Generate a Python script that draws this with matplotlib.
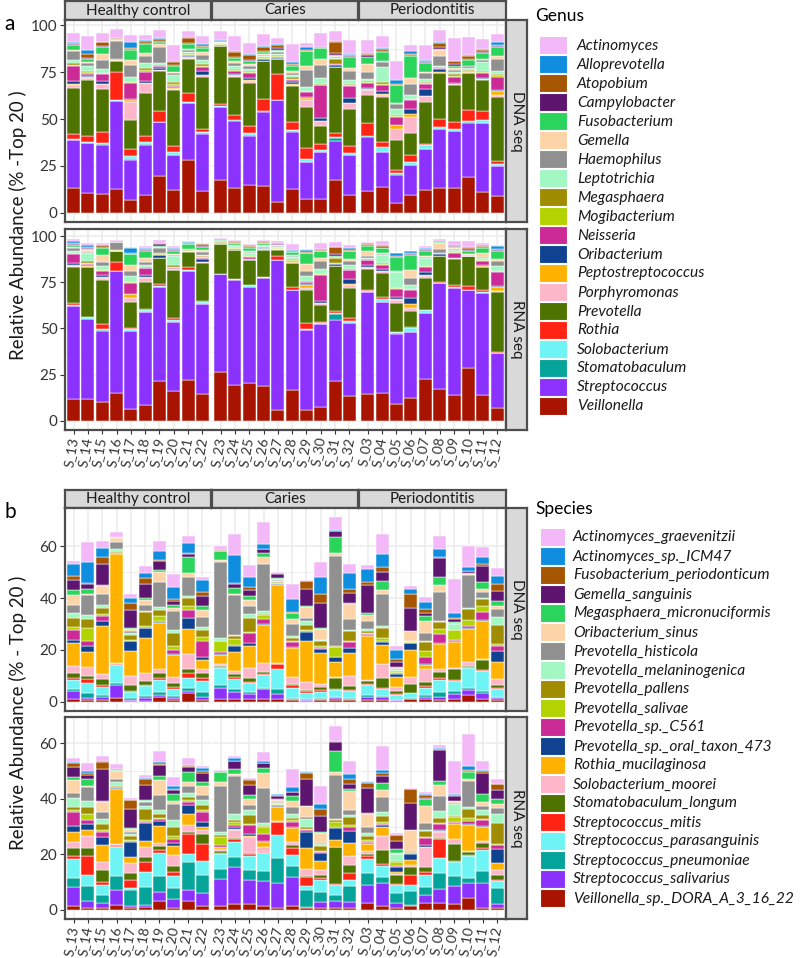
import matplotlib
matplotlib.use("Agg")
import matplotlib.pyplot as plt
from matplotlib.patches import Rectangle
import numpy as np

plt.rcParams["font.family"] = ["Lato", "DejaVu Sans"]

# sample order on the x axis, 10 per group
samples = ["S_13", "S_14", "S_15", "S_16", "S_17", "S_18", "S_19", "S_20", "S_21", "S_22",
           "S_23", "S_24", "S_25", "S_26", "S_27", "S_28", "S_29", "S_30", "S_31", "S_32",
           "S_03", "S_04", "S_05", "S_06", "S_07", "S_08", "S_09", "S_10", "S_11", "S_12"]
groups = ["Healthy control", "Caries", "Periodontitis"]
rows = ["DNA seq", "RNA seq"]

genera = ["Actinomyces", "Alloprevotella", "Atopobium", "Campylobacter", "Fusobacterium",
          "Gemella", "Haemophilus", "Leptotrichia", "Megasphaera", "Mogibacterium",
          "Neisseria", "Oribacterium", "Peptostreptococcus", "Porphyromonas", "Prevotella",
          "Rothia", "Solobacterium", "Stomatobaculum", "Streptococcus", "Veillonella"]

species = ["Actinomyces_graevenitzii", "Actinomyces_sp._ICM47", "Fusobacterium_periodonticum",
           "Gemella_sanguinis", "Megasphaera_micronuciformis", "Oribacterium_sinus",
           "Prevotella_histicola", "Prevotella_melaninogenica", "Prevotella_pallens",
           "Prevotella_salivae", "Prevotella_sp._C561", "Prevotella_sp._oral_taxon_473",
           "Rothia_mucilaginosa", "Solobacterium_moorei", "Stomatobaculum_longum",
           "Streptococcus_mitis", "Streptococcus_parasanguinis", "Streptococcus_pneumoniae",
           "Streptococcus_salivarius", "Veillonella_sp._DORA_A_3_16_22"]

palette = ["#F2B8F7", "#0F8EE0", "#A65500", "#5E1570", "#2BD45B", "#FDD4A8", "#909090",
           "#A2F7C3", "#A08C00", "#B3D300", "#CC2A96", "#0F4391", "#FFB300", "#FDB7C9",
           "#4F7300", "#FF2414", "#6EF4F4", "#05A49A", "#8B32FF", "#A81400"]

# relative abundance, one row per sample (same order as `samples`),
# columns in legend order (first = top of the stack)
genus_dna = [
    [4.5, 0.5, 0.7, 0.6, 2.3, 0.9, 4.4, 1.8, 0.9, 0.9, 8.0, 1.5, 0.3, 1.8, 24.5, 2.5, 0.7, 0.3, 25.3, 13.3],
    [7.4, 1.8, 2.3, 0.5, 1.5, 0.8, 1.2, 3.0, 0.7, 1.0, 0.8, 0.5, 0.8, 0.8, 30.0, 3.0, 0.6, 0.3, 26.5, 10.6],
    [4.4, 0.4, 1.8, 0.5, 4.2, 2.7, 5.3, 1.8, 0.3, 0.3, 4.0, 1.2, 0.3, 2.3, 23.0, 5.8, 0.9, 0.3, 26.2, 10.1],
    [4.8, 0.1, 0.3, 0.3, 0.5, 0.3, 9.4, 0.3, 0.2, 0.2, 0.2, 0.1, 0.1, 0.1, 6.2, 14.9, 0.1, 0.1, 47.1, 12.7],
    [3.5, 3.2, 0.5, 0.5, 5.5, 2.7, 6.2, 2.7, 0.3, 0.3, 8.5, 0.5, 1.4, 9.2, 15.9, 3.5, 1.8, 0.2, 21.2, 7.1],
    [3.0, 0.3, 1.2, 0.5, 4.8, 1.8, 3.5, 2.5, 1.2, 1.0, 4.8, 1.0, 0.3, 5.3, 23.0, 3.2, 1.2, 0.3, 26.5, 9.7],
    [4.4, 0.4, 1.0, 0.6, 1.2, 1.2, 8.8, 0.8, 0.6, 0.4, 0.6, 1.4, 0.1, 0.2, 21.4, 5.7, 0.3, 0.2, 28.7, 19.5],
    [8.5, 0.5, 1.6, 0.6, 3.5, 0.5, 0.8, 4.0, 1.0, 0.8, 0.5, 0.9, 0.3, 0.9, 29.5, 3.5, 1.2, 0.2, 18.9, 12.0],
    [3.0, 0.5, 2.6, 0.8, 2.7, 0.5, 0.8, 0.5, 0.7, 0.6, 0.4, 0.8, 0.3, 0.4, 18.2, 4.8, 0.7, 0.2, 30.4, 28.0],
    [4.4, 0.8, 0.6, 0.6, 2.3, 1.5, 2.7, 1.8, 1.0, 1.0, 2.0, 1.8, 0.3, 1.2, 27.6, 1.8, 0.5, 0.2, 30.3, 11.9],
    [5.0, 0.2, 0.4, 0.2, 0.3, 0.2, 0.3, 0.2, 0.2, 0.2, 0.1, 0.5, 0.1, 0.1, 31.0, 1.0, 0.5, 0.2, 38.6, 17.7],
    [8.3, 0.5, 2.6, 0.5, 1.5, 1.0, 2.0, 1.5, 0.5, 0.5, 1.8, 0.5, 0.5, 0.5, 20.0, 2.6, 0.4, 0.2, 35.9, 13.3],
    [5.7, 0.5, 2.7, 0.8, 1.5, 1.0, 1.5, 1.0, 0.8, 0.5, 2.5, 1.2, 0.5, 1.0, 23.0, 4.0, 1.0, 0.3, 26.4, 14.7],
    [6.7, 0.5, 2.0, 0.6, 0.8, 0.6, 0.8, 0.5, 0.5, 0.4, 0.3, 0.8, 0.1, 0.1, 20.0, 6.3, 0.4, 0.2, 39.8, 14.2],
    [3.2, 0.5, 1.5, 0.8, 0.5, 0.8, 1.2, 0.5, 0.6, 0.4, 0.5, 0.4, 0.1, 0.1, 7.8, 13.8, 0.1, 0.1, 54.5, 5.7],
    [9.4, 0.9, 0.5, 0.5, 3.0, 0.8, 1.5, 1.0, 0.8, 0.5, 1.2, 1.0, 0.5, 0.7, 19.1, 4.4, 0.6, 0.2, 30.6, 12.7],
    [2.3, 1.5, 0.4, 0.3, 7.6, 2.6, 8.8, 2.1, 0.3, 0.3, 2.8, 0.5, 1.0, 3.5, 22.0, 6.2, 1.2, 0.2, 19.5, 7.6],
    [7.0, 0.3, 0.3, 0.3, 5.8, 3.0, 7.0, 3.5, 0.2, 0.2, 17.7, 1.2, 0.3, 2.6, 9.4, 3.5, 1.0, 0.2, 24.6, 7.6],
    [5.3, 0.5, 5.7, 1.2, 0.5, 0.5, 0.5, 0.4, 2.6, 0.3, 0.2, 1.2, 0.1, 0.1, 34.9, 2.6, 0.3, 1.8, 20.4, 17.7],
    [7.4, 0.6, 0.4, 0.4, 5.8, 1.7, 4.8, 2.2, 0.4, 0.4, 6.5, 2.6, 0.4, 3.0, 20.0, 3.4, 1.2, 0.2, 20.9, 9.7],
    [7.0, 0.5, 0.8, 0.8, 3.9, 4.0, 3.9, 1.0, 0.6, 0.6, 2.5, 0.8, 0.5, 2.8, 14.9, 6.7, 0.3, 0.1, 29.2, 11.5],
    [6.5, 0.4, 1.4, 0.4, 4.6, 0.8, 2.7, 8.0, 0.8, 0.4, 3.2, 1.8, 0.3, 1.4, 23.9, 2.7, 2.6, 0.1, 18.8, 13.6],
    [10.3, 2.1, 0.3, 0.3, 9.4, 0.5, 2.7, 3.5, 0.3, 0.3, 4.4, 0.3, 1.8, 5.8, 16.5, 1.2, 0.9, 0.1, 15.4, 5.0],
    [3.5, 1.8, 0.3, 0.3, 11.9, 3.5, 5.8, 1.8, 0.3, 0.3, 5.0, 2.5, 1.4, 8.8, 11.5, 4.1, 1.6, 0.1, 15.6, 9.7],
    [8.0, 0.5, 0.5, 0.5, 4.8, 1.0, 3.0, 1.5, 0.8, 0.6, 2.6, 3.5, 0.3, 3.2, 22.0, 0.9, 1.9, 0.1, 21.6, 12.4],
    [6.5, 0.5, 2.1, 0.8, 0.8, 3.0, 5.3, 0.6, 0.5, 0.3, 0.4, 1.8, 0.2, 0.3, 24.2, 4.4, 0.9, 0.1, 31.7, 13.1],
    [12.4, 0.3, 1.6, 0.8, 1.0, 1.0, 1.2, 1.3, 0.8, 0.5, 3.5, 0.3, 0.2, 0.4, 19.6, 3.9, 1.0, 0.1, 30.3, 13.3],
    [9.7, 0.3, 1.8, 0.8, 2.7, 0.5, 0.8, 1.0, 0.4, 0.4, 0.3, 0.3, 0.1, 0.1, 19.8, 5.7, 1.0, 0.1, 29.2, 18.9],
    [5.3, 0.3, 1.2, 0.6, 3.0, 0.8, 0.8, 4.8, 0.5, 0.5, 2.6, 0.5, 0.3, 0.4, 16.3, 5.3, 1.4, 0.1, 36.8, 11.0],
    [4.4, 1.8, 0.5, 0.5, 4.8, 1.4, 6.2, 1.8, 0.5, 1.2, 6.7, 0.5, 2.3, 1.2, 33.8, 1.8, 0.9, 0.1, 16.3, 8.8],
]

genus_rna = [
    [1.2, 0.6, 0.6, 0.5, 1.5, 0.5, 1.4, 1.0, 0.4, 0.3, 5.0, 1.2, 0.3, 0.6, 19.6, 0.9, 0.3, 0.1, 50.7, 11.6],
    [0.8, 1.0, 0.8, 0.6, 0.6, 0.8, 0.6, 4.4, 1.0, 0.5, 0.4, 0.9, 0.4, 0.2, 26.7, 0.3, 0.9, 0.1, 43.2, 11.9],
    [0.8, 0.4, 0.8, 0.5, 4.1, 3.8, 2.1, 1.8, 0.4, 0.3, 2.1, 1.4, 0.3, 1.4, 23.8, 2.3, 0.9, 0.1, 38.8, 10.1],
    [0.7, 0.1, 0.1, 0.1, 0.1, 0.1, 4.2, 0.1, 0.1, 0.1, 0.1, 0.1, 0.1, 0.1, 5.9, 4.8, 0.1, 0.1, 65.8, 15.1],
    [0.6, 2.7, 0.4, 0.3, 5.5, 3.5, 2.5, 3.2, 0.3, 0.3, 6.0, 0.3, 1.8, 2.1, 14.1, 0.9, 0.9, 0.1, 42.0, 6.6],
    [0.8, 0.5, 0.5, 0.4, 4.1, 2.0, 1.5, 1.2, 0.5, 0.4, 3.6, 0.8, 0.9, 2.3, 14.2, 0.9, 0.9, 0.1, 50.4, 8.4],
    [1.2, 0.4, 0.6, 0.6, 0.8, 0.6, 2.5, 0.4, 0.3, 0.3, 0.2, 1.5, 0.1, 0.1, 13.9, 1.4, 0.2, 0.1, 51.1, 21.4],
    [1.0, 0.5, 0.5, 0.5, 1.8, 0.5, 0.5, 4.8, 0.8, 0.8, 0.3, 0.3, 0.2, 0.2, 25.8, 1.4, 1.0, 0.1, 37.4, 16.0],
    [0.6, 0.3, 0.5, 0.4, 2.4, 0.3, 0.3, 0.2, 0.2, 0.1, 0.1, 0.1, 0.1, 0.1, 8.5, 1.2, 0.9, 0.1, 58.7, 22.2],
    [0.6, 0.4, 0.6, 0.6, 1.8, 1.0, 1.8, 0.5, 0.4, 0.4, 1.0, 1.2, 0.3, 0.3, 20.5, 0.9, 0.9, 0.1, 48.4, 14.8],
    [0.4, 0.1, 0.3, 0.3, 0.3, 0.3, 0.3, 0.3, 0.2, 0.2, 0.1, 0.3, 0.0, 0.1, 16.0, 0.1, 0.1, 0.0, 52.8, 26.7],
    [0.5, 0.2, 0.6, 0.4, 0.6, 0.4, 0.6, 0.8, 0.3, 0.2, 0.3, 0.3, 0.0, 0.1, 15.5, 0.1, 0.3, 0.0, 56.9, 19.6],
    [0.5, 0.4, 1.0, 0.5, 1.5, 0.7, 0.5, 1.2, 0.5, 0.3, 1.0, 0.3, 0.2, 0.2, 13.2, 0.2, 1.0, 0.1, 52.0, 20.5],
    [0.5, 0.3, 0.6, 0.4, 0.6, 0.4, 0.5, 0.4, 0.3, 0.2, 0.2, 0.6, 0.1, 0.1, 14.8, 0.2, 0.2, 0.0, 58.7, 18.7],
    [0.6, 0.2, 0.5, 0.4, 0.3, 0.6, 0.5, 0.3, 0.3, 0.2, 0.1, 0.2, 0.1, 0.1, 3.6, 1.8, 0.1, 0.0, 81.3, 5.9],
    [3.0, 0.5, 0.5, 0.4, 1.5, 0.6, 0.6, 1.0, 0.4, 0.4, 0.5, 0.3, 0.2, 0.1, 13.0, 1.6, 0.2, 0.0, 53.9, 16.9],
    [0.5, 1.5, 0.3, 0.3, 5.8, 3.8, 2.8, 2.5, 0.3, 0.3, 1.2, 0.5, 1.4, 1.4, 17.5, 3.2, 0.5, 0.1, 43.6, 5.7],
    [3.0, 0.5, 0.4, 0.4, 3.6, 1.6, 4.4, 2.7, 0.2, 0.2, 14.2, 0.9, 0.3, 1.2, 8.9, 0.9, 0.2, 0.0, 45.0, 7.5],
    [2.3, 0.4, 3.6, 1.1, 0.4, 0.3, 0.3, 0.3, 2.7, 0.2, 0.2, 0.9, 0.1, 0.1, 24.0, 1.4, 0.5, 3.4, 33.0, 21.4],
    [1.6, 0.9, 0.5, 0.5, 4.1, 1.2, 2.3, 1.8, 0.5, 0.4, 4.8, 2.7, 0.4, 1.4, 16.4, 1.8, 1.0, 0.1, 39.5, 13.3],
    [0.9, 0.4, 0.6, 0.4, 2.7, 2.5, 1.2, 0.6, 0.4, 0.3, 2.6, 1.0, 0.3, 0.9, 11.2, 0.7, 0.2, 0.0, 55.2, 14.8],
    [2.5, 0.4, 0.9, 0.4, 2.3, 0.5, 0.8, 4.5, 0.5, 0.4, 2.1, 1.0, 0.2, 0.9, 13.3, 0.9, 1.4, 0.1, 49.3, 15.1],
    [0.5, 1.2, 0.3, 0.3, 7.7, 0.3, 0.3, 8.5, 0.3, 0.3, 4.1, 1.5, 0.2, 1.8, 15.5, 0.1, 0.9, 0.1, 38.3, 8.9],
    [0.3, 1.2, 0.3, 0.3, 8.5, 4.2, 3.6, 2.3, 0.3, 0.3, 4.3, 3.2, 2.1, 1.8, 8.5, 0.9, 1.8, 0.1, 35.6, 12.5],
    [1.4, 0.4, 0.6, 0.4, 3.0, 0.6, 0.5, 4.0, 0.4, 0.3, 2.6, 2.0, 0.2, 1.2, 17.1, 0.2, 1.8, 0.0, 35.6, 22.6],
    [0.9, 0.2, 0.3, 0.3, 0.3, 3.6, 1.8, 0.2, 0.2, 0.1, 0.1, 1.2, 0.1, 0.1, 13.9, 0.5, 0.1, 0.0, 57.3, 17.3],
    [2.5, 0.3, 0.4, 0.3, 0.8, 0.5, 0.5, 0.8, 0.3, 0.3, 2.5, 0.3, 0.2, 0.2, 14.2, 1.1, 0.7, 0.0, 57.8, 13.9],
    [3.6, 0.3, 1.2, 0.3, 2.0, 0.2, 0.2, 0.2, 0.2, 0.1, 0.1, 0.1, 0.0, 0.1, 16.0, 2.3, 0.1, 0.0, 41.8, 28.8],
    [1.2, 0.4, 0.8, 0.4, 2.8, 2.0, 0.6, 1.0, 0.4, 0.3, 2.5, 0.5, 0.1, 0.3, 12.5, 1.2, 0.1, 0.0, 55.5, 13.9],
    [0.4, 1.8, 0.5, 0.5, 4.4, 1.0, 2.7, 2.7, 0.3, 0.3, 7.5, 0.6, 2.1, 0.5, 32.4, 0.9, 0.1, 0.0, 29.4, 7.1],
]

species_dna = [
    [1.3, 4.6, 1.3, 4.1, 1.9, 3.8, 3.2, 1.9, 3.2, 1.3, 3.8, 1.3, 8.9, 2.5, 1.9, 0.9, 3.6, 0.6, 3.2, 1.0],
    [7.6, 8.0, 0.5, 1.7, 2.3, 0.3, 7.6, 1.5, 3.6, 4.8, 2.2, 2.2, 5.7, 3.6, 1.0, 1.5, 4.1, 1.7, 1.0, 0.6],
    [2.8, 3.6, 2.5, 8.2, 0.4, 3.2, 4.1, 1.3, 2.3, 0.6, 2.2, 1.7, 18.7, 2.0, 2.2, 0.6, 3.2, 0.6, 1.5, 0.5],
    [1.7, 0.1, 0.1, 0.1, 0.1, 1.5, 2.8, 1.4, 0.1, 0.1, 0.1, 0.1, 42.3, 0.3, 0.1, 0.2, 6.9, 1.0, 5.1, 1.3],
    [1.6, 1.7, 2.8, 7.0, 0.4, 0.8, 0.8, 0.5, 1.9, 0.4, 0.3, 3.8, 9.4, 3.6, 2.3, 0.5, 2.3, 0.8, 0.4, 0.2],
    [2.8, 1.9, 2.3, 5.4, 0.6, 1.9, 2.3, 0.6, 5.4, 0.6, 0.3, 3.8, 13.4, 3.2, 1.3, 0.6, 3.8, 0.9, 1.0, 0.3],
    [4.1, 3.3, 0.5, 3.3, 0.9, 3.8, 9.8, 1.0, 2.3, 1.8, 0.4, 0.6, 17.6, 1.5, 1.9, 0.9, 4.8, 1.0, 0.9, 1.7],
    [5.1, 4.5, 0.9, 1.7, 0.9, 1.2, 7.6, 1.0, 5.1, 1.3, 1.5, 0.4, 8.5, 2.5, 1.5, 0.6, 2.8, 1.0, 0.8, 0.5],
    [2.5, 3.8, 0.5, 1.3, 5.9, 1.8, 7.1, 0.9, 2.9, 1.8, 2.9, 4.5, 9.6, 5.5, 1.8, 1.7, 3.8, 1.3, 0.9, 3.3],
    [1.3, 4.7, 1.3, 3.8, 1.7, 2.8, 3.8, 1.0, 2.8, 1.5, 6.1, 1.3, 3.6, 1.3, 2.2, 0.9, 4.2, 1.9, 1.5, 0.5],
    [1.5, 0.1, 0.2, 0.2, 3.2, 0.9, 29.3, 1.0, 0.3, 4.1, 0.6, 0.4, 3.8, 0.5, 0.5, 0.5, 6.4, 1.0, 4.5, 1.0],
    [8.0, 10.7, 0.4, 1.7, 2.2, 0.6, 15.3, 0.6, 0.9, 2.3, 0.5, 2.3, 7.3, 1.3, 0.9, 0.8, 4.1, 1.0, 2.8, 1.0],
    [4.7, 3.8, 1.0, 2.5, 1.5, 2.3, 3.2, 1.3, 5.7, 0.4, 3.8, 1.0, 8.5, 3.8, 1.7, 0.5, 3.3, 0.9, 1.9, 1.0],
    [8.5, 1.9, 0.3, 1.3, 1.5, 2.9, 18.2, 0.9, 0.6, 1.5, 2.0, 0.3, 14.5, 3.6, 0.6, 0.4, 5.1, 0.6, 3.8, 1.0],
    [0.2, 0.2, 0.3, 1.7, 0.3, 0.5, 0.3, 0.3, 0.3, 0.3, 0.3, 0.2, 30.2, 0.3, 0.2, 1.7, 7.9, 1.9, 1.9, 1.0],
    [6.1, 4.8, 0.3, 0.3, 2.2, 1.9, 4.5, 1.0, 1.0, 0.6, 1.7, 0.6, 11.0, 2.8, 0.5, 1.0, 3.8, 0.5, 0.5, 0.5],
    [0.2, 0.2, 2.8, 6.8, 0.2, 4.2, 1.3, 1.5, 1.9, 0.6, 0.3, 3.6, 15.8, 2.9, 0.6, 0.6, 2.5, 0.3, 0.3, 0.3],
    [5.6, 6.8, 3.4, 9.7, 0.2, 4.3, 0.2, 0.2, 2.0, 0.9, 0.2, 1.7, 12.0, 1.0, 1.0, 0.9, 2.5, 0.3, 0.3, 0.7],
    [5.1, 0.1, 0.1, 2.2, 6.4, 1.0, 34.6, 0.3, 0.3, 3.8, 0.2, 1.7, 6.0, 0.3, 4.1, 0.3, 2.9, 0.3, 1.0, 0.5],
    [3.4, 6.0, 1.7, 3.8, 0.6, 5.7, 4.2, 0.4, 3.8, 0.4, 2.5, 1.9, 8.9, 3.6, 1.5, 0.6, 2.5, 0.5, 0.6, 0.5],
    [1.5, 5.1, 1.3, 10.8, 0.6, 2.5, 2.9, 0.9, 0.6, 0.6, 0.3, 0.6, 16.8, 0.5, 1.0, 0.3, 4.1, 0.5, 1.5, 0.5],
    [7.6, 5.1, 1.9, 3.4, 3.6, 1.5, 12.2, 0.9, 3.8, 1.3, 0.4, 0.9, 7.6, 5.1, 3.8, 0.4, 2.8, 0.5, 1.3, 0.5],
    [1.7, 3.4, 1.3, 1.7, 0.5, 0.3, 0.4, 0.5, 0.4, 0.4, 0.3, 1.3, 3.8, 1.3, 1.3, 0.3, 1.9, 0.3, 0.3, 0.2],
    [0.9, 2.2, 5.1, 8.9, 0.2, 3.6, 0.2, 0.2, 0.2, 0.2, 0.2, 2.5, 10.6, 2.8, 3.2, 0.2, 1.9, 0.2, 0.2, 1.0],
    [1.9, 2.9, 1.3, 1.5, 1.9, 4.5, 3.2, 0.4, 3.2, 2.5, 2.5, 0.6, 1.3, 5.1, 1.7, 0.5, 2.9, 0.6, 1.0, 1.0],
    [5.1, 2.9, 0.3, 7.6, 2.9, 2.8, 11.2, 0.5, 2.5, 1.9, 3.6, 0.3, 9.6, 1.3, 2.2, 0.8, 4.7, 1.7, 1.5, 0.5],
    [13.0, 2.0, 0.2, 1.3, 0.2, 0.2, 0.3, 2.2, 0.3, 3.8, 0.3, 0.3, 10.0, 0.6, 4.1, 0.4, 3.8, 1.3, 1.9, 1.0],
    [8.3, 1.3, 0.3, 0.6, 0.3, 0.3, 13.0, 0.3, 4.2, 2.2, 0.9, 0.3, 13.0, 1.3, 0.3, 0.6, 7.6, 1.0, 1.9, 2.5],
    [3.8, 2.5, 0.9, 6.1, 2.8, 1.3, 2.3, 0.3, 2.5, 2.5, 3.2, 0.3, 14.6, 0.3, 3.8, 0.6, 7.6, 0.9, 2.3, 1.0],
    [2.9, 3.2, 2.8, 3.6, 1.9, 1.3, 3.2, 2.8, 7.6, 0.6, 1.9, 4.2, 6.6, 2.5, 1.0, 0.5, 2.9, 0.5, 1.0, 0.5],
]

species_rna = [
    [1.5, 0.6, 1.4, 3.6, 1.0, 4.8, 1.8, 3.2, 1.0, 0.6, 5.1, 2.4, 3.6, 2.0, 3.0, 1.0, 6.8, 3.2, 7.1, 1.2],
    [3.0, 0.6, 0.8, 1.5, 2.4, 0.6, 5.0, 2.1, 2.7, 2.0, 1.4, 2.4, 2.1, 4.2, 3.0, 6.9, 3.8, 5.4, 2.4, 0.8],
    [1.7, 0.3, 2.7, 11.5, 0.3, 3.6, 2.4, 2.1, 2.1, 0.6, 2.0, 2.7, 6.3, 2.9, 4.3, 0.8, 3.6, 3.2, 1.5, 0.8],
    [1.5, 0.2, 0.2, 0.2, 0.2, 3.0, 1.2, 1.4, 0.2, 0.2, 0.2, 0.2, 20.0, 0.5, 0.2, 0.5, 10.4, 4.8, 5.6, 1.7],
    [0.6, 0.2, 3.0, 6.9, 0.3, 1.2, 0.8, 0.8, 1.2, 0.6, 0.3, 5.4, 2.1, 3.6, 2.4, 3.2, 0.6, 5.7, 0.6, 0.8],
    [1.3, 0.3, 2.0, 5.4, 0.3, 0.6, 1.5, 0.8, 4.2, 0.6, 0.3, 6.5, 2.4, 3.6, 1.8, 3.6, 5.4, 6.5, 0.6, 1.0],
    [4.2, 0.6, 0.3, 4.2, 1.2, 5.4, 5.6, 1.5, 1.2, 0.6, 0.6, 1.8, 6.0, 1.2, 1.4, 1.2, 8.3, 5.7, 3.2, 3.2],
    [3.3, 0.8, 0.6, 1.2, 2.6, 1.2, 5.7, 2.4, 3.3, 1.2, 1.4, 1.2, 3.0, 4.2, 2.1, 1.4, 4.2, 4.2, 3.0, 0.8],
    [2.7, 0.3, 0.3, 2.0, 3.6, 1.5, 2.4, 1.4, 1.0, 0.8, 1.2, 3.0, 4.2, 2.4, 0.8, 7.1, 3.1, 10.0, 3.9, 3.2],
    [0.8, 1.2, 0.7, 3.2, 1.5, 3.2, 1.8, 1.8, 1.8, 0.6, 3.6, 1.8, 1.2, 1.4, 3.6, 6.3, 4.8, 6.5, 4.8, 1.4],
    [0.4, 0.1, 0.1, 0.1, 3.6, 1.5, 16.5, 1.2, 0.5, 2.9, 0.7, 0.3, 0.5, 0.8, 0.6, 0.5, 5.4, 3.5, 9.8, 1.4],
    [0.8, 1.0, 0.3, 2.6, 2.1, 0.6, 13.5, 2.4, 0.8, 0.8, 1.0, 0.6, 0.3, 3.0, 0.3, 1.0, 5.6, 3.6, 13.3, 2.0],
    [0.6, 0.3, 1.8, 3.6, 1.5, 2.0, 1.8, 1.8, 3.2, 0.6, 3.2, 0.6, 0.3, 5.7, 0.5, 0.7, 5.2, 3.3, 8.9, 2.0],
    [3.2, 0.5, 0.3, 1.5, 2.0, 5.4, 12.5, 1.2, 0.5, 2.4, 2.4, 0.3, 1.8, 1.8, 0.3, 0.3, 6.5, 3.6, 8.9, 1.4],
    [0.2, 0.2, 0.3, 1.2, 0.4, 0.6, 0.3, 0.3, 0.3, 0.3, 0.3, 0.3, 5.0, 0.3, 0.2, 4.8, 8.1, 9.2, 9.0, 0.5],
    [6.5, 1.8, 0.3, 1.2, 1.8, 2.4, 2.4, 1.5, 0.8, 0.5, 1.8, 0.4, 5.0, 1.0, 1.2, 2.4, 4.2, 3.8, 10.5, 1.4],
    [0.2, 0.2, 2.4, 9.5, 0.3, 4.0, 0.7, 2.6, 0.8, 0.5, 0.5, 6.0, 7.5, 2.4, 0.5, 3.2, 1.5, 6.0, 0.6, 0.5],
    [6.5, 1.8, 2.6, 5.7, 0.3, 3.6, 0.5, 0.6, 1.8, 0.4, 0.4, 3.0, 3.0, 1.8, 1.4, 0.4, 4.3, 3.8, 2.3, 0.5],
    [5.4, 0.1, 0.2, 3.2, 7.5, 1.2, 15.8, 0.5, 0.6, 1.8, 0.3, 4.4, 2.4, 0.3, 13.1, 0.3, 3.9, 2.0, 2.4, 0.8],
    [4.8, 1.5, 1.8, 2.1, 0.5, 6.8, 2.0, 0.5, 2.9, 0.8, 1.4, 4.5, 4.5, 3.2, 3.0, 2.4, 2.4, 5.7, 2.0, 0.8],
    [0.6, 0.2, 2.0, 9.0, 0.3, 4.8, 2.0, 1.2, 1.5, 0.5, 0.3, 0.4, 2.7, 0.8, 0.8, 1.2, 5.0, 4.5, 6.4, 2.4],
    [8.6, 1.0, 1.4, 2.4, 2.6, 2.4, 5.5, 1.4, 2.1, 0.8, 0.5, 0.5, 3.3, 5.0, 5.0, 0.7, 4.0, 2.4, 8.1, 1.4],
    [0.8, 0.2, 2.1, 2.6, 1.5, 0.3, 0.3, 2.4, 0.5, 1.2, 0.5, 1.8, 0.6, 0.5, 3.2, 0.3, 3.1, 3.6, 1.8, 0.5],
    [0.2, 0.2, 4.8, 9.8, 0.2, 7.4, 0.2, 0.2, 0.2, 0.2, 0.2, 2.1, 2.1, 0.5, 2.9, 3.8, 2.1, 5.0, 0.3, 1.4],
    [0.8, 0.2, 1.2, 0.3, 2.7, 6.0, 2.4, 0.5, 2.0, 0.6, 2.4, 0.6, 0.3, 6.9, 2.0, 1.2, 4.2, 3.0, 2.6, 2.6],
    [1.2, 0.2, 0.3, 11.1, 1.7, 3.9, 5.4, 2.4, 1.8, 0.4, 2.1, 0.5, 0.3, 2.1, 0.5, 6.8, 5.6, 5.7, 5.0, 2.4],
    [11.9, 0.3, 0.3, 1.8, 0.3, 0.5, 0.5, 4.2, 0.5, 1.8, 0.4, 0.4, 5.4, 1.8, 6.0, 0.5, 5.0, 3.6, 6.5, 2.0],
    [11.7, 1.2, 0.3, 0.5, 2.7, 0.5, 9.5, 0.5, 3.5, 1.0, 1.0, 0.3, 9.5, 0.4, 1.0, 0.3, 8.0, 2.0, 5.1, 4.4],
    [3.0, 0.3, 1.0, 7.4, 3.0, 1.2, 1.5, 2.0, 1.2, 0.6, 2.0, 0.4, 5.1, 0.6, 2.0, 0.8, 7.5, 4.2, 8.9, 0.8],
    [1.8, 0.3, 2.0, 3.1, 2.0, 1.5, 2.0, 3.2, 7.5, 0.6, 1.2, 5.4, 2.4, 1.8, 1.8, 0.3, 2.4, 6.0, 1.2, 0.8],
]

W, H = 800, 958
fig = plt.figure(figsize=(W / 100, H / 100), dpi=100)

BORDER = "#4D4D4D"
GRID = "#EBEBEB"
STRIP = "#D9D9D9"
FACETS = [(65, 211), (212, 358), (359, 506)]


def px_axes(x0, y0, x1, y1, **kw):
    return fig.add_axes([x0 / W, 1 - y1 / H, (x1 - x0) / W, (y1 - y0) / H], **kw)


def draw_row(values, y0, y1, ticks, show_x):
    vals = np.array(values)
    top = vals.sum(axis=1).max()
    lims = (-0.05 * top, 1.05 * top)
    for g, (x0, x1) in enumerate(FACETS):
        ax = px_axes(x0, y0, x1, y1)
        block = vals[g * 10:(g + 1) * 10]
        xs = np.arange(1, 11)
        bottom = np.zeros(10)
        # last legend entry sits at the bottom of each bar
        for k in range(len(palette) - 1, -1, -1):
            ax.bar(xs, block[:, k], 0.9, bottom=bottom, color=palette[k],
                   edgecolor="white", linewidth=0.35, zorder=2)
            bottom += block[:, k]
        ax.set_xlim(0.4, 10.6)
        ax.set_ylim(*lims)
        ax.set_yticks(ticks)
        ax.set_yticks([(a + b) / 2 for a, b in zip(ticks[:-1], ticks[1:])], minor=True)
        ax.set_xticks(xs)
        ax.grid(True, which="major", color=GRID, linewidth=1.1, zorder=0)
        ax.grid(True, which="minor", axis="y", color=GRID, linewidth=0.6, zorder=0)
        ax.set_axisbelow(True)
        for side in ["top", "bottom", "left", "right"]:
            ax.spines[side].set_color(BORDER)
            ax.spines[side].set_linewidth(1.6)
        ax.spines["left"].set_visible(g == 0)
        ax.spines["right"].set_visible(g == 2)
        ax.tick_params(which="minor", length=0)
        ax.tick_params(axis="y", length=3.5 if g == 0 else 0, color="#333333",
                       labelsize=11, labelcolor="#333333", pad=2, labelleft=(g == 0))
        ax.tick_params(axis="x", length=3 if show_x else 0, color="#333333",
                       labelbottom=show_x, pad=2)
        if show_x:
            ax.set_xticklabels(samples[g * 10:(g + 1) * 10], rotation=80,
                               rotation_mode="anchor", ha="right", va="center",
                               fontsize=10, color="#333333")


def strip_box(x0, y0, x1, y1, text, rotation=0):
    ax = px_axes(x0, y0, x1, y1)
    ax.set_facecolor(STRIP)
    ax.set_xticks([])
    ax.set_yticks([])
    for s in ax.spines.values():
        s.set_color(BORDER)
        s.set_linewidth(1.6)
    ax.text(0.5, 0.5, text, transform=ax.transAxes, ha="center", va="center",
            rotation=rotation, fontsize=11, color="#1A1A1A")


def draw_panel(dna, rna, strip_y, dna_y, rna_y, ticks):
    for g, (x0, x1) in enumerate(FACETS):
        strip_box(x0, strip_y, x1, dna_y[0], groups[g])
    draw_row(dna, dna_y[0], dna_y[1], ticks, False)
    draw_row(rna, rna_y[0], rna_y[1], ticks, True)
    strip_box(506, dna_y[0], 527, dna_y[1], rows[0], rotation=-90)
    strip_box(506, rna_y[0], 527, rna_y[1], rows[1], rotation=-90)


draw_panel(genus_dna, genus_rna, 1, (20, 222), (229, 430), [0, 25, 50, 75, 100])
draw_panel(species_dna, species_rna, 490, (508, 711), (717, 919), [0, 20, 40, 60])

# overlay in pixel coordinates for labels and legends
over = px_axes(0, 0, W, H)
over.set_xlim(0, W)
over.set_ylim(H, 0)
over.axis("off")
over.patch.set_alpha(0)

over.text(4, 24, "a", fontsize=15, ha="left", va="center")
over.text(4, 512, "b", fontsize=15, ha="left", va="center")
over.text(18, 225, "Relative Abundance (% -Top 20 )", rotation=90, fontsize=13.5,
          ha="center", va="center", color="#1A1A1A")
over.text(18, 713, "Relative Abundance (% - Top 20 )", rotation=90, fontsize=13.5,
          ha="center", va="center", color="#1A1A1A")


def draw_legend(title, names, title_y, key_top, key_x0, key_x1, label_x):
    over.text(535, title_y, title, fontsize=12.5, ha="left", va="center")
    for i, (name, col) in enumerate(zip(names, palette)):
        y = key_top + 19 * i
        over.add_patch(Rectangle((key_x0, y), key_x1 - key_x0, 18, facecolor=col,
                                 edgecolor="white", linewidth=0.8))
        over.text(label_x, y + 9.5, name, fontsize=11.2, style="italic",
                  ha="left", va="center", color="#1A1A1A")


draw_legend("Genus", genera, 16, 36, 539, 567, 577)
draw_legend("Species", species, 509, 528, 540, 565, 573)

fig.savefig("out.png", dpi=100)
